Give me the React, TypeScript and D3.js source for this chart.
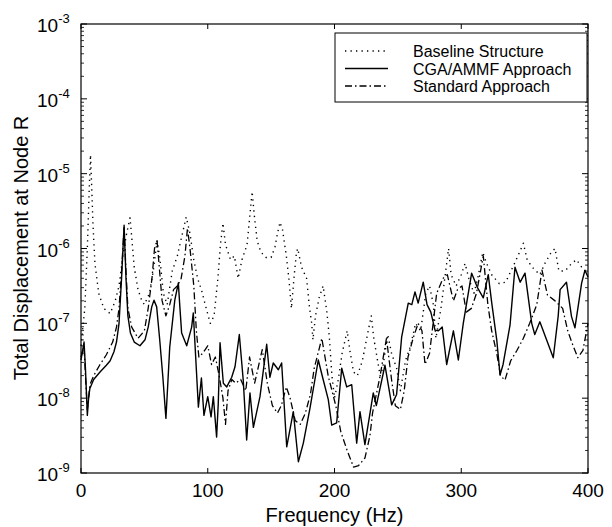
import React, { useEffect, useRef } from 'react';
import * as d3 from 'd3';

// Baseline structure (dotted) - frequency in Hz, log10 of displacement
const baselineFreq = [0, 3, 5, 6.5, 7.5, 8.5, 9.5, 11, 14, 18, 23, 27, 30, 33, 36, 38.7, 40.5, 42, 45, 48, 50, 54, 57, 60, 62, 65, 68, 72, 76, 80, 83, 86, 89, 92, 95, 98, 102, 105, 108, 110, 112, 114, 118, 121, 124, 127, 131, 133, 135, 137, 139, 142, 146, 150, 153, 155, 157, 159, 162, 164, 166, 168, 170, 171, 174, 178, 180, 182, 183, 185, 188, 191, 194, 196, 198, 200, 203, 206, 210, 212, 215, 218, 222, 226, 229, 231, 236, 238, 242, 245, 249, 252, 256, 260, 264, 268, 272, 275, 278, 280, 284, 287, 290, 292, 296, 300, 303, 306, 310, 313, 317, 320, 324, 330, 335, 342, 346, 349, 352, 356, 362, 366, 371, 374, 377, 382, 387, 391, 395, 400];
const baselineLog = [-7.3, -6.8, -6.0, -5.2, -4.75, -5.2, -5.7, -6.2, -6.6, -6.8, -6.87, -6.7, -6.5, -6.1, -5.8, -5.59, -5.95, -6.25, -6.55, -6.7, -6.75, -6.6, -6.3, -5.9, -6.1, -6.6, -6.75, -6.3, -6.1, -5.8, -5.58, -5.8, -6.15, -6.4, -6.55, -6.75, -7.0, -6.9, -6.4, -5.95, -5.66, -5.95, -6.15, -6.1, -6.4, -6.15, -5.95, -5.6, -5.24, -5.6, -5.9, -6.05, -6.12, -6.12, -5.98, -5.8, -5.65, -5.75, -6.1, -6.4, -6.8, -6.4, -6.05, -6.0, -6.25, -6.4, -6.75, -7.0, -7.22, -6.9, -6.65, -6.5, -6.85, -7.2, -7.7, -8.0, -7.75, -7.4, -7.1, -7.35, -7.65, -7.7, -7.5, -7.15, -6.9, -7.2, -7.7, -7.6, -7.15, -7.4, -7.6, -7.9, -7.5, -7.3, -7.0, -7.1, -6.6, -6.5, -6.75, -7.2, -6.8, -6.4, -6.0, -6.35, -6.5, -6.35, -6.2, -6.4, -6.6, -6.4, -6.05, -6.2, -6.35, -6.47, -6.45, -6.2, -6.05, -5.93, -6.15, -6.25, -6.35, -6.2, -6.05, -6.0, -6.3, -6.3, -6.2, -6.15, -6.25, -6.35];

// CGA/AMMF approach (solid)
const cgaFreq = [0, 2.4, 3.5, 5, 6, 7, 10, 15, 20, 23, 26, 28, 30, 32, 34, 35.5, 37, 39, 42, 46.5, 50.5, 53, 55.8, 57.6, 59.7, 62, 64.5, 67, 68.5, 70, 74, 76.8, 78, 79.4, 83.4, 87.3, 88.6, 90, 92.6, 95, 97, 100, 102.6, 104.4, 107, 108.3, 109.7, 112.3, 115, 118.9, 121.5, 124.9, 128, 130.7, 133.3, 136, 141.2, 146.5, 149, 151.7, 155.7, 158.3, 162.3, 167.5, 171.5, 175.4, 180.7, 187.2, 191.2, 195.1, 197.8, 201.7, 205.7, 209.6, 213.6, 217.5, 220.1, 224, 230.6, 233, 239.8, 245.1, 249, 253, 258.2, 261, 263.5, 266, 270, 273, 276, 279.3, 282, 285, 288.5, 293.8, 297.7, 301.6, 308.2, 313, 317.4, 321.3, 324, 328, 330.6, 333, 338.5, 342.4, 346.5, 350.3, 355.6, 358, 362, 372.6, 376.5, 378, 383, 387, 389.7, 395, 397.6, 400];
const cgaLog = [-7.49, -7.25, -7.6, -8.23, -8.0, -7.87, -7.75, -7.65, -7.56, -7.5, -7.38, -7.25, -7.0, -6.4, -5.69, -6.4, -6.9, -7.13, -7.25, -7.3, -7.22, -7.05, -6.78, -6.69, -6.78, -7.2, -7.7, -8.27, -7.8, -7.32, -6.69, -6.46, -6.78, -7.13, -7.3, -7.05, -6.86, -7.3, -8.12, -7.73, -8.23, -7.98, -8.25, -7.98, -8.52, -8.07, -7.26, -7.8, -7.85, -7.72, -7.58, -7.15, -7.76, -8.56, -7.93, -8.39, -7.98, -7.28, -7.72, -7.53, -7.62, -7.53, -8.65, -8.18, -8.85, -8.6, -8.13, -7.49, -7.76, -8.02, -8.36, -8.33, -7.6, -7.85, -7.82, -8.6, -8.18, -8.62, -7.93, -8.1, -7.56, -8.09, -7.95, -7.18, -6.73, -6.75, -6.58, -6.73, -6.45, -6.75, -6.85, -7.09, -7.1, -7.05, -7.55, -7.1, -7.49, -7.0, -6.33, -6.53, -6.66, -6.35, -6.72, -7.22, -7.69, -7.55, -7.02, -6.25, -6.45, -6.33, -7.0, -7.15, -6.98, -7.46, -6.9, -6.55, -6.45, -6.91, -7.06, -6.46, -6.29, -6.38];

// Standard approach (dash-dot)
const stdFreq = [0, 2.4, 3.5, 5, 6, 7, 10, 15, 20, 25, 28, 30, 32, 34, 35.5, 37, 40, 45, 50, 53, 56, 58, 60, 62, 64, 67, 70, 73, 76, 79, 82, 84, 86, 89, 91, 93, 96, 100, 103, 106, 109, 112, 114, 116, 119, 122, 126, 130, 133, 137, 141, 143, 147, 151, 155, 158, 162, 165, 169, 173, 177, 181, 184, 187, 190, 193, 195, 198, 201, 205, 210, 215, 219, 224, 228, 230, 233, 236, 241, 245, 248, 252, 255, 258, 262, 266, 269, 271.4, 275, 280.6, 285.6, 289, 293.8, 297, 300.6, 304, 308, 312, 317.4, 321, 324, 328, 331, 334.5, 339, 344, 349, 354, 359.6, 363.7, 368, 374, 380, 384, 388, 392, 396, 400];
const stdLog = [-7.45, -7.3, -7.7, -8.15, -8.0, -7.82, -7.7, -7.55, -7.42, -7.25, -7.05, -6.8, -6.3, -5.72, -6.3, -6.8, -7.05, -7.2, -7.1, -6.8, -6.4, -6.0, -5.89, -6.3, -6.7, -6.9, -6.75, -6.55, -6.5, -6.4, -6.1, -5.73, -6.0, -6.5, -7.1, -7.45, -7.4, -7.3, -7.55, -7.45, -7.7, -8.0, -8.35, -7.9, -7.75, -7.8, -7.75, -7.9, -7.45, -7.8, -7.5, -7.35, -7.8, -8.1, -8.2, -8.1, -7.85, -8.0, -8.3, -8.35, -8.2, -7.95, -7.6, -7.4, -7.2, -7.5, -7.7, -7.9, -8.1, -8.45, -8.7, -8.92, -8.9, -8.8, -8.5, -8.2, -7.95, -7.7, -7.2, -7.75, -8.1, -8.15, -7.9, -7.45, -7.2, -7.0, -7.1, -7.55, -7.4, -6.6, -6.4, -6.35, -6.7, -6.55, -6.5, -6.85, -6.8, -6.6, -6.1, -6.75, -7.1, -7.4, -7.7, -7.76, -7.5, -7.36, -7.2, -7.0, -6.75, -6.29, -6.62, -6.7, -6.8, -7.1, -7.29, -7.46, -7.36, -7.0];

const xTicks = [0, 100, 200, 300, 400];
const yDecades = [-9, -8, -7, -6, -5, -4, -3];
const legendLabels = ['Baseline Structure', 'CGA/AMMF Approach', 'Standard Approach'];

const App = () => {
  const ref = useRef<SVGSVGElement>(null);

  useEffect(() => {
    drawChart();
  }, []);

  const drawChart = () => {
    const width = 612;
    const height = 527;
    const left = 81, right = 588, top = 24, bottom = 473;
    const font = '"Liberation Sans", Arial, Helvetica, sans-serif';

    const svg = d3.select(ref.current);
    svg.selectAll('*').remove();
    svg.attr('width', width).attr('height', height);

    svg.append('rect').attr('width', width).attr('height', height).attr('fill', '#fff');

    const x = d3.scaleLinear().domain([0, 400]).range([left, right]);
    const y = d3.scaleLog().domain([1e-9, 1e-3]).range([bottom, top]);

    const series = [
      { freq: baselineFreq, vals: baselineLog, dash: '1.3,4.2', width: 1.4 },
      { freq: cgaFreq, vals: cgaLog, dash: null, width: 1.4 },
      { freq: stdFreq, vals: stdLog, dash: '7,3,1.5,3', width: 1.3 },
    ];

    const line = d3.line<[number, number]>()
      .x(d => x(d[0]))
      .y(d => y(d[1]));

    const plot = svg.append('g');
    series.forEach(s => {
      const pts: [number, number][] = s.freq.map((f, i) => [f, Math.pow(10, s.vals[i])]);
      plot.append('path')
        .attr('d', line(pts))
        .attr('fill', 'none')
        .attr('stroke', '#000')
        .attr('stroke-width', s.width)
        .attr('stroke-linejoin', 'round')
        .attr('stroke-dasharray', s.dash);
    });

    // axes box
    svg.append('rect')
      .attr('x', left).attr('y', top)
      .attr('width', right - left).attr('height', bottom - top)
      .attr('fill', 'none').attr('stroke', '#000').attr('stroke-width', 1.2);

    // x ticks (inside, top and bottom)
    xTicks.forEach(t => {
      const px = x(t);
      svg.append('line').attr('x1', px).attr('x2', px).attr('y1', bottom).attr('y2', bottom - 5).attr('stroke', '#000');
      svg.append('line').attr('x1', px).attr('x2', px).attr('y1', top).attr('y2', top + 5).attr('stroke', '#000');
      svg.append('text')
        .attr('x', px).attr('y', bottom + 24)
        .attr('text-anchor', 'middle')
        .style('font-family', font).style('font-size', '19px')
        .text(t);
    });

    // y ticks, decades and minor
    yDecades.forEach(e => {
      const py = y(Math.pow(10, e));
      svg.append('line').attr('x1', left).attr('x2', left + 6).attr('y1', py).attr('y2', py).attr('stroke', '#000');
      svg.append('line').attr('x1', right).attr('x2', right - 6).attr('y1', py).attr('y2', py).attr('stroke', '#000');
      const label = svg.append('text')
        .attr('x', 37).attr('y', py + 8)
        .style('font-family', font).style('font-size', '19px');
      label.append('tspan').text('10');
      label.append('tspan').attr('dy', -9).style('font-size', '13px').text(`-${-e}`);
      if (e < -3) {
        for (let m = 2; m <= 9; m++) {
          const my = y(m * Math.pow(10, e));
          svg.append('line').attr('x1', left).attr('x2', left + 3).attr('y1', my).attr('y2', my).attr('stroke', '#000').attr('stroke-width', 0.8);
          svg.append('line').attr('x1', right).attr('x2', right - 3).attr('y1', my).attr('y2', my).attr('stroke', '#000').attr('stroke-width', 0.8);
        }
      }
    });

    // axis labels
    svg.append('text')
      .attr('x', (left + right) / 2).attr('y', 522)
      .attr('text-anchor', 'middle')
      .style('font-family', font).style('font-size', '20px')
      .text('Frequency (Hz)');

    svg.append('text')
      .attr('transform', `translate(28, 248) rotate(-90)`)
      .attr('text-anchor', 'middle')
      .style('font-family', font).style('font-size', '20px')
      .text('Total Displacement at Node R');

    // legend
    const lg = svg.append('g');
    lg.append('rect')
      .attr('x', 335).attr('y', 33).attr('width', 252).attr('height', 69)
      .attr('fill', '#fff').attr('stroke', '#000').attr('stroke-width', 1);
    legendLabels.forEach((lab, i) => {
      const ly = 51 + i * 17.5;
      lg.append('line')
        .attr('x1', 345).attr('x2', 388).attr('y1', ly).attr('y2', ly)
        .attr('stroke', '#000').attr('stroke-width', series[i].width)
        .attr('stroke-dasharray', series[i].dash);
      lg.append('text')
        .attr('x', 413).attr('y', ly + 6)
        .style('font-family', font).style('font-size', '16px')
        .text(lab);
    });
  };

  return (
    <div style={{ position: 'absolute', left: 0, top: 0 }}>
      <svg ref={ref}></svg>
    </div>
  );
};

export default App;
